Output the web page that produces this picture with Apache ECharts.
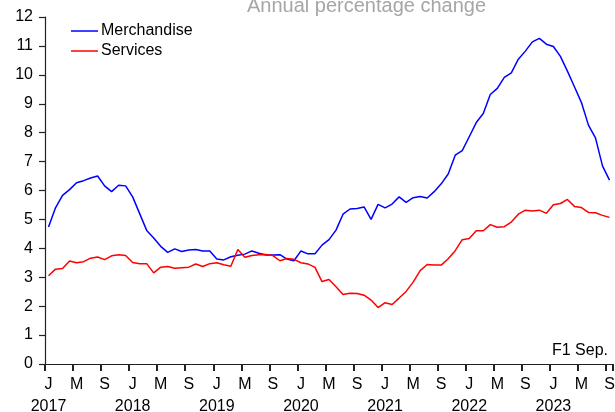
<!DOCTYPE html>
<html>
<head>
<meta charset="utf-8">
<script src="https://cdn.jsdelivr.net/npm/echarts@6/dist/echarts.min.js"></script>
<style>
  html, body { margin: 0; padding: 0; background: #fff; }
  #chart { width: 615px; height: 412px; }
</style>
</head>
<body>
<div id="chart"></div>
<script>
// monthly, Jan 2017 - Sep 2023
const years = [2017, 2018, 2019, 2020, 2021, 2022, 2023];
const monthLetters = ['J', 'F', 'M', 'A', 'M', 'J', 'J', 'A', 'S', 'O', 'N', 'D'];

const merchandise = [
  4.74, 5.40, 5.83, 6.03, 6.27, 6.34, 6.43, 6.50, 6.16, 5.96, 6.18, 6.16,
  5.78, 5.20, 4.62, 4.36, 4.07, 3.86, 3.98, 3.89, 3.94, 3.96, 3.91, 3.91,
  3.63, 3.60, 3.71, 3.76, 3.80, 3.91, 3.83, 3.77, 3.77, 3.78, 3.63, 3.57,
  3.91, 3.81, 3.81, 4.11, 4.30, 4.63, 5.18, 5.36, 5.38, 5.43, 5.00, 5.52,
  5.40, 5.53, 5.78, 5.59, 5.75, 5.79, 5.74, 5.96, 6.23, 6.57, 7.22, 7.38,
  7.86, 8.35, 8.66, 9.32, 9.53, 9.91, 10.07, 10.54, 10.82, 11.14, 11.26, 11.06,
  10.98, 10.64, 10.13, 9.59, 9.04, 8.26, 7.82, 6.85, 6.36
];

const services = [
  3.05, 3.28, 3.30, 3.56, 3.50, 3.54, 3.66, 3.70, 3.61, 3.74, 3.78, 3.75,
  3.51, 3.47, 3.47, 3.15, 3.35, 3.37, 3.31, 3.33, 3.35, 3.46, 3.37, 3.47,
  3.50, 3.43, 3.38, 3.96, 3.69, 3.75, 3.78, 3.79, 3.75, 3.57, 3.65, 3.62,
  3.50, 3.46, 3.34, 2.85, 2.92, 2.67, 2.40, 2.45, 2.44, 2.38, 2.21, 1.95,
  2.12, 2.06, 2.28, 2.51, 2.83, 3.23, 3.44, 3.42, 3.42, 3.64, 3.92, 4.30,
  4.34, 4.61, 4.61, 4.82, 4.73, 4.75, 4.91, 5.18, 5.32, 5.29, 5.32, 5.21,
  5.51, 5.55, 5.69, 5.45, 5.41, 5.24, 5.23, 5.14, 5.07
];

const months = [];
years.forEach(function (y) {
  for (let m = 0; m < 12; m++) {
    if (months.length < merchandise.length) months.push(y + '-' + (m + 1));
  }
});

const font = 'Liberation Sans, Arial, sans-serif';
const chart = echarts.init(document.getElementById('chart'));

const option = {
  animation: false,
  title: {
    text: 'Annual percentage change',
    left: 242,
    top: -9,
    textStyle: { fontFamily: font, fontSize: 20, fontWeight: 'normal', color: '#a6a6a6' }
  },
  legend: {
    orient: 'vertical',
    left: 66,
    top: 18,
    icon: 'rect',
    itemWidth: 27,
    itemHeight: 1.5,
    itemGap: 4,
    data: ['Merchandise', 'Services'],
    textStyle: { fontFamily: font, fontSize: 16, lineHeight: 16, color: '#000', padding: [0, 0, 0, -2] }
  },
  grid: {
    left: 45,
    right: 2,
    top: 17,
    bottom: 48,
    outerBoundsMode: 'none'
  },
  xAxis: [
    {
      type: 'category',
      data: months,
      axisLine: { lineStyle: { color: '#222', width: 1.2 } },
      axisTick: { show: false },
      axisLabel: {
        interval: 3,
        margin: 10,
        fontFamily: font,
        fontSize: 16,
        lineHeight: 22,
        color: '#000',
        formatter: function (val) {
          const parts = val.split('-');
          const m = Number(parts[1]) - 1;
          return m === 0 ? monthLetters[m] + '\n' + parts[0] : monthLetters[m];
        }
      },
      splitLine: { show: false }
    },
    {
      // tick marks at the start of every 4th month
      type: 'value',
      position: 'bottom',
      min: 0,
      max: 81,
      interval: 4,
      z: 10,
      axisLine: { show: false },
      axisTick: { show: true, length: 7, lineStyle: { color: '#222', width: 2 } },
      axisLabel: { show: false },
      splitLine: { show: false }
    }
  ],
  yAxis: {
    type: 'value',
    min: 0,
    max: 12,
    interval: 1,
    axisLine: { show: true, lineStyle: { color: '#222', width: 1.2 } },
    axisTick: { show: true, length: 6, lineStyle: { color: '#222', width: 1.2 } },
    axisLabel: { margin: 12, fontFamily: font, fontSize: 16, color: '#000' },
    splitLine: { show: false }
  },
  graphic: [{
    type: 'text',
    right: 7,
    top: 343,
    style: { text: 'F1 Sep.', font: '16px "Liberation Sans", Arial, sans-serif', fill: '#000' }
  }],
  series: [
    {
      name: 'Merchandise',
      type: 'line',
      data: merchandise,
      symbol: 'none',
      lineStyle: { color: '#0000ff', width: 1.5 },
      itemStyle: { color: '#0000ff' }
    },
    {
      name: 'Services',
      type: 'line',
      data: services,
      symbol: 'none',
      lineStyle: { color: '#ff0000', width: 1.5 },
      itemStyle: { color: '#ff0000' }
    }
  ]
};

chart.setOption(option);
</script>
</body>
</html>
